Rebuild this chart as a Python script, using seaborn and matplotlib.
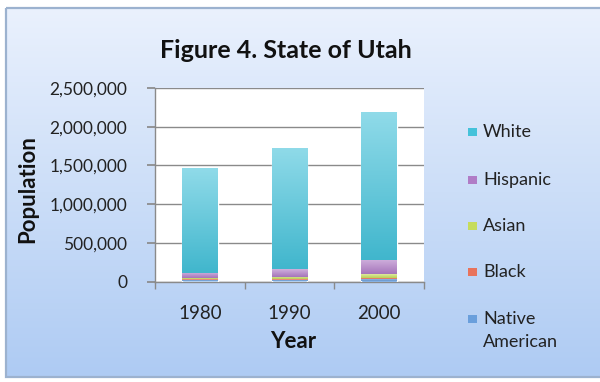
import numpy as np
import pandas as pd
import matplotlib
matplotlib.use("Agg")
import matplotlib.pyplot as plt
from matplotlib.patches import Rectangle
from matplotlib.colors import to_rgb
from matplotlib.ticker import FuncFormatter, FixedLocator
import seaborn as sns

# Utah population by group, census years
years = ["1980", "1990", "2000"]
native_american = [19000, 24000, 27000]
black = [9000, 11000, 17000]
asian = [15000, 27000, 50000]
hispanic = [70000, 95000, 190000]
white = [1353000, 1568000, 1910000]

groups = ["Native American", "Black", "Asian", "Hispanic", "White"]
series = [native_american, black, asian, hispanic, white]
colors = ["#6a9fdc", "#e8735c", "#c6dc5c", "#b07cc6", "#45c2da"]

sns.set_theme(style="white")
plt.rcParams["font.family"] = ["Lato", "DejaVu Sans"]

fig = plt.figure(figsize=(6.0, 3.82), dpi=100)

# Panel background: soft blue vertical gradient with a thin border
bg = fig.add_axes([0, 0, 1, 1], zorder=-10)
bg.set_xlim(0, 600)
bg.set_ylim(382, 0)
bg.axis("off")
top_c = np.array(to_rgb("#eaf1fd"))
bot_c = np.array(to_rgb("#aecbf3"))
t = np.linspace(0, 1, 256)[:, None]
grad = (top_c[None, :] * (1 - t) + bot_c[None, :] * t)[:, None, :]
grad = np.repeat(grad, 2, axis=1)
bg.add_patch(Rectangle((0, 0), 600, 382, color="white", zorder=0))
bg.imshow(grad, extent=(6, 600, 377, 8), aspect="auto", zorder=1)
bg.add_patch(Rectangle((6, 8), 600, 369, fill=False, edgecolor="#9cb2cf",
                       linewidth=1.6, zorder=2))

# Plot area spans x 155..424 px and y 88..281.5 px
ax = fig.add_axes([155 / 600, 1 - 281.5 / 382, 269 / 600, 193.5 / 382])
ax.set_facecolor("white")
ax.patch.set_edgecolor("none")

df = pd.DataFrame({"Year": years})
cum = np.zeros(len(years))
for name, vals, col in zip(groups, series, colors):
    df[name] = vals
    sns.barplot(data=df, x="Year", y=name, bottom=cum, color=col,
                width=0.40, saturation=1, errorbar=None, ax=ax, zorder=3)
    cum = cum + np.array(vals)

# Vertical shading on each bar segment (lighter at top)
ax.set_xlim(-0.5, 2.5)
ax.set_ylim(0, 2500000)
for p in list(ax.patches):
    fc = np.array(p.get_facecolor()[:3])
    x0, y0 = p.get_x(), p.get_y()
    w, h = p.get_width(), p.get_height()
    light = fc + (1 - fc) * 0.4
    dark = fc * 0.94
    tt = np.linspace(0, 1, 64)[:, None]
    g = (light[None, :] * (1 - tt) + dark[None, :] * tt)[:, None, :]
    g = np.repeat(g, 2, axis=1)
    im = ax.imshow(g, extent=(x0, x0 + w, y0, y0 + h), aspect="auto",
                   zorder=3.5, interpolation="bilinear")
    im.set_clip_path(p)
ax.set_xlim(-0.5, 2.5)
ax.set_ylim(0, 2500000)

# Gridlines and axes styling
ax.yaxis.set_major_locator(FixedLocator([0, 500000, 1000000, 1500000, 2000000, 2500000]))
ax.yaxis.set_major_formatter(FuncFormatter(lambda v, _: f"{int(v):,}"))
ax.grid(axis="y", color="#8a8a8a", linewidth=1.0, zorder=1)
ax.grid(axis="x", visible=False)
ax.set_axisbelow(True)
for side in ["left", "bottom"]:
    ax.spines[side].set_color("#8a8a8a")
    ax.spines[side].set_linewidth(1.0)

ax.tick_params(axis="y", left=True, length=6, color="#8a8a8a",
               labelsize=12.5, labelcolor="#222222", pad=14)
ax.tick_params(axis="x", which="major", bottom=False, labelsize=13.5,
               labelcolor="#222222", pad=11)
ax.set_xticks([-0.5, 0.5, 1.5, 2.5], minor=True)
ax.tick_params(axis="x", which="minor", bottom=True, length=5, color="#8a8a8a")

ax.set_xlabel("Year", fontsize=16, fontweight="bold", color="#111111")
ax.xaxis.set_label_coords(0.513, -(331 - 281.5) / 193.5)
ax.set_ylabel("Population", fontsize=16, fontweight="bold", color="#111111")
ax.yaxis.set_label_coords((38 - 155) / 269, (281.5 - 189.5) / 193.5)

fig.text(286 / 600, 1 - 50 / 382, "Figure 4. State of Utah", ha="center",
         va="center", fontsize=18, fontweight="bold", color="#111111")

# Legend, top series first
leg_labels = ["White", "Hispanic", "Asian", "Black", "Native"]
leg_colors = colors[::-1]
leg_y = [132, 180, 226, 272, 319]
for lab, col, yy in zip(leg_labels, leg_colors, leg_y):
    bg.add_patch(Rectangle((468, yy - 4), 9, 8, facecolor=col,
                           edgecolor="none", zorder=3))
    bg.text(483, yy, lab, ha="left", va="center", fontsize=13,
            color="#222222", zorder=3)
bg.text(483, 342, "American", ha="left", va="center", fontsize=13,
        color="#222222", zorder=3)

for side in ["top", "right"]:
    ax.spines[side].set_visible(False)

fig.savefig("out.png", dpi=100)
